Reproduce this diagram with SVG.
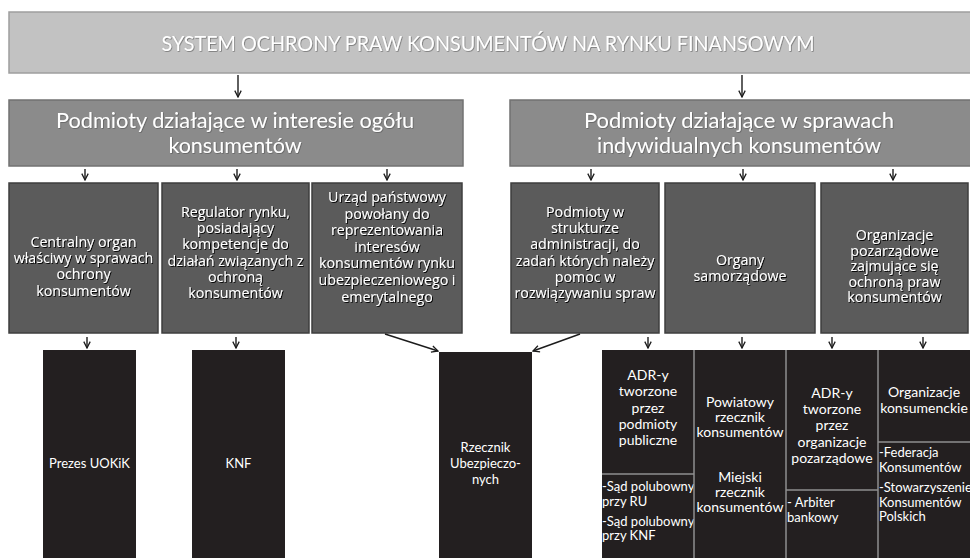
<svg xmlns="http://www.w3.org/2000/svg" width="970" height="558" viewBox="0 0 970 558">
  <defs>
    <style>
      text { font-family: "Lato", "Open Sans", "DejaVu Sans", sans-serif; fill: #ffffff; }
      .title { font-size: 22px; text-anchor: middle; }
      .head { font-size: 21.5px; text-anchor: middle; }
      .mid { font-family: "Open Sans", "Lato", sans-serif; font-size: 14.2px; text-anchor: middle; }
      .low { font-size: 14px; text-anchor: middle; }
      .lowL { font-size: 13px; }
      .pill { font-size: 13px; text-anchor: middle; }
      .banner { fill: #c2c2c2; stroke: #9e9e9e; stroke-width: 1.5; }
      .header { fill: #8b8b8b; stroke: #727272; stroke-width: 1.5; }
      .cat { fill: #5b5b5b; stroke: #3e3e3e; stroke-width: 1.5; }
      .inst { fill: #231f20; }
      .div { stroke: #8f8f8f; stroke-width: 1.5; fill: none; }
      .arrow { stroke: #1c1c1c; stroke-width: 1.4; fill: none; marker-end: url(#head); }
    </style>
    <marker id="head" viewBox="0 0 10 10" refX="9" refY="5" markerWidth="8" markerHeight="8" markerUnits="userSpaceOnUse" orient="auto">
      <path d="M1,1 L9,5 L1,9" fill="none" stroke="#1c1c1c" stroke-width="1.6"/>
    </marker>
    <filter id="shade" x="-10%" y="-20%" width="120%" height="140%">
      <feDropShadow dx="0.9" dy="0.9" stdDeviation="0.7" flood-color="#000" flood-opacity="1"/>
    </filter>
    <filter id="soft" x="-10%" y="-20%" width="120%" height="140%">
      <feDropShadow dx="0.7" dy="0.7" stdDeviation="0.7" flood-color="#4a4a4a" flood-opacity="0.7"/>
    </filter>
  </defs>

  <rect width="970" height="558" fill="#ffffff"/>

  <!-- top banner -->
  <g id="system">
    <rect class="banner" x="9" y="12" width="968" height="61"/>
    <text class="title" x="488" y="51" textLength="653" lengthAdjust="spacingAndGlyphs" filter="url(#soft)">SYSTEM OCHRONY PRAW KONSUMENTÓW NA RYNKU FINANSOWYM</text>
  </g>

  <!-- second level -->
  <g id="ogol">
    <rect class="header" x="9" y="100" width="454" height="66"/>
    <text class="head" x="235" y="128" textLength="358" lengthAdjust="spacingAndGlyphs" filter="url(#soft)">Podmioty działające w interesie ogółu</text>
    <text class="head" x="235" y="153" filter="url(#soft)">konsumentów</text>
  </g>
  <g id="indywidualni">
    <rect class="header" x="510" y="100" width="466" height="66"/>
    <text class="head" x="739" y="128" textLength="310" lengthAdjust="spacingAndGlyphs" filter="url(#soft)">Podmioty działające w sprawach</text>
    <text class="head" x="739" y="153" textLength="284" lengthAdjust="spacingAndGlyphs" filter="url(#soft)">indywidualnych konsumentów</text>
  </g>

  <!-- third level: categories -->
  <g id="organ-centralny">
    <rect class="cat" x="9" y="183" width="149" height="150"/>
    <text class="mid" x="83.5" y="247" filter="url(#shade)">Centralny organ<tspan x="83.5" dy="16.2">właściwy w sprawach</tspan><tspan x="83.5" dy="16.2">ochrony</tspan><tspan x="83.5" dy="16.2">konsumentów</tspan></text>
  </g>
  <g id="regulator">
    <rect class="cat" x="162" y="183" width="147" height="150"/>
    <text class="mid" x="235.5" y="217" filter="url(#shade)">Regulator rynku,<tspan x="235.5" dy="16.2">posiadający</tspan><tspan x="235.5" dy="16.2">kompetencje do</tspan><tspan x="235.5" dy="16.2">działań związanych z</tspan><tspan x="235.5" dy="16.2">ochroną</tspan><tspan x="235.5" dy="16.2">konsumentów</tspan></text>
  </g>
  <g id="urzad">
    <rect class="cat" x="312" y="183" width="150" height="150"/>
    <text class="mid" x="387" y="202" filter="url(#shade)">Urząd państwowy<tspan x="387" dy="16.6">powołany do</tspan><tspan x="387" dy="16.6">reprezentowania</tspan><tspan x="387" dy="16.6">interesów</tspan><tspan x="387" dy="16.6">konsumentów rynku</tspan><tspan x="387" dy="16.6">ubezpieczeniowego i</tspan><tspan x="387" dy="16.6">emerytalnego</tspan></text>
  </g>
  <g id="administracja">
    <rect class="cat" x="511" y="183" width="148" height="150"/>
    <text class="mid" x="585" y="217" filter="url(#shade)">Podmioty w<tspan x="585" dy="16.2">strukturze</tspan><tspan x="585" dy="16.2">administracji, do</tspan><tspan x="585" dy="16.2">zadań których należy</tspan><tspan x="585" dy="16.2">pomoc w</tspan><tspan x="585" dy="16.2">rozwiązywaniu spraw</tspan></text>
  </g>
  <g id="samorzad">
    <rect class="cat" x="665" y="183" width="150" height="150"/>
    <text class="mid" x="740" y="265" filter="url(#shade)">Organy<tspan x="740" dy="15.5">samorządowe</tspan></text>
  </g>
  <g id="pozarzadowe">
    <rect class="cat" x="821" y="183" width="147" height="150"/>
    <text class="mid" x="894.5" y="240" filter="url(#shade)">Organizacje<tspan x="894.5" dy="15.6">pozarządowe</tspan><tspan x="894.5" dy="15.6">zajmujące się</tspan><tspan x="894.5" dy="15.6">ochroną praw</tspan><tspan x="894.5" dy="15.6">konsumentów</tspan></text>
  </g>

  <!-- fourth level: institutions -->
  <g id="uokik">
    <rect class="inst" x="43" y="350" width="93" height="210"/>
    <text class="pill" x="89.5" y="468">Prezes UOKiK</text>
  </g>
  <g id="knf">
    <rect class="inst" x="192" y="350" width="93" height="210"/>
    <text class="pill" x="238.5" y="468">KNF</text>
  </g>
  <g id="rzecznik">
    <rect class="inst" x="439" y="352" width="93" height="208"/>
    <text class="pill" x="485.5" y="452">Rzecznik<tspan x="485.5" dy="16">Ubezpieczo-</tspan><tspan x="485.5" dy="16">nych</tspan></text>
  </g>
  <g id="adr-publiczne">
    <rect class="inst" x="602" y="350" width="92" height="210"/>
    <line class="div" x1="602" y1="474" x2="694" y2="474"/>
    <text class="low" x="648" y="380">ADR-y<tspan x="648" dy="16.3">tworzone</tspan><tspan x="648" dy="16.3">przez</tspan><tspan x="648" dy="16.3">podmioty</tspan><tspan x="648" dy="16.3">publiczne</tspan></text>
    <text class="lowL" x="602" y="491">-Sąd polubowny<tspan x="602" dy="15">przy RU</tspan><tspan x="602" dy="20">-Sąd polubowny</tspan><tspan x="602" dy="14">przy KNF</tspan></text>
  </g>
  <g id="rzecznicy">
    <rect class="inst" x="694" y="350" width="92" height="210"/>
    <text class="low" x="740" y="407">Powiatowy<tspan x="740" dy="15">rzecznik</tspan><tspan x="740" dy="15">konsumentów</tspan></text>
    <text class="low" x="740" y="482">Miejski<tspan x="740" dy="15">rzecznik</tspan><tspan x="740" dy="15">konsumentów</tspan></text>
  </g>
  <g id="adr-pozarzadowe">
    <rect class="inst" x="786" y="350" width="92" height="210"/>
    <line class="div" x1="786" y1="490" x2="878" y2="490"/>
    <text class="low" x="832" y="398">ADR-y<tspan x="832" dy="16.2">tworzone</tspan><tspan x="832" dy="16.2">przez</tspan><tspan x="832" dy="16.2">organizacje</tspan><tspan x="832" dy="16.2">pozarządowe</tspan></text>
    <text class="lowL" x="787" y="507">- Arbiter<tspan x="787" dy="14.5">bankowy</tspan></text>
  </g>
  <g id="konsumenckie">
    <rect class="inst" x="878" y="350" width="94" height="210"/>
    <line class="div" x1="878" y1="442" x2="972" y2="442"/>
    <text class="low" x="924" y="397">Organizacje<tspan x="924" dy="16">konsumenckie</tspan></text>
    <text class="lowL" x="879" y="457">-Federacja<tspan x="879" dy="15">Konsumentów</tspan><tspan x="879" dy="20">-Stowarzyszenie</tspan><tspan x="879" dy="15">Konsumentów</tspan><tspan x="879" dy="14">Polskich</tspan></text>
  </g>
  <g id="separators">
    <line class="div" x1="694" y1="350" x2="694" y2="558"/>
    <line class="div" x1="786" y1="350" x2="786" y2="558"/>
    <line class="div" x1="878" y1="350" x2="878" y2="558"/>
  </g>

  <!-- connectors -->
  <g id="connectors">
    <path class="arrow" d="M238,75 V97"/>
    <path class="arrow" d="M742,75 V97"/>
    <path class="arrow" d="M85,169 V180"/>
    <path class="arrow" d="M237,169 V180"/>
    <path class="arrow" d="M387,169 V180"/>
    <path class="arrow" d="M591,169 V180"/>
    <path class="arrow" d="M743,169 V180"/>
    <path class="arrow" d="M893,169 V180"/>
    <path class="arrow" d="M87,337 V348"/>
    <path class="arrow" d="M236,337 V348"/>
    <path class="arrow" d="M385,334 L438,351"/>
    <path class="arrow" d="M580,334 L533,351"/>
    <path class="arrow" d="M648,337 V348"/>
    <path class="arrow" d="M742,337 V348"/>
    <path class="arrow" d="M832,337 V348"/>
    <path class="arrow" d="M923,337 V348"/>
  </g>
</svg>
